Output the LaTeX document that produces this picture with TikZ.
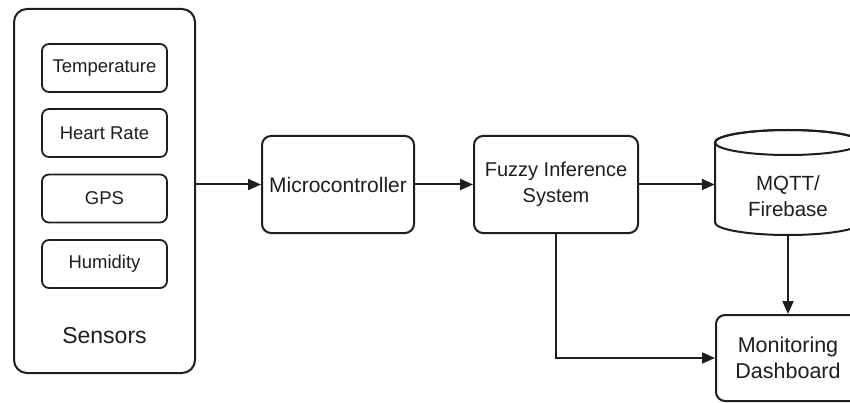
\documentclass[tikz,border=0pt]{standalone}
\usepackage{fontspec}
\setmainfont{Liberation Sans}
\usetikzlibrary{arrows.meta}
\definecolor{ink}{HTML}{1E1E1E}
\begin{document}
\begin{tikzpicture}[x=1pt,y=-1pt,
  box/.style={draw=ink, line width=2pt, rounded corners=9pt, align=center, text=ink, inner sep=0pt,
    font=\fontsize{20}{25.5}\selectfont},
  sensbox/.style={draw=ink, line width=1.8pt, rounded corners=7pt, minimum width=125pt, minimum height=48pt,
    inner sep=0pt, text=ink, font=\fontsize{18.5}{21}\selectfont},
  arr/.style={draw=ink, line width=2pt, -{Triangle[length=13pt,width=11pt]}}]
\useasboundingbox (0,0) rectangle (850,403);
\fill[white] (0,0) rectangle (850,403);
\clip (0,0) rectangle (850,403);

% Sensors group
\node[draw=ink, line width=2pt, rounded corners=13pt, minimum width=181pt, minimum height=364pt, inner sep=0pt] (sensors) at (104.5,191) {};
\node[sensbox] (temp) at (104.5,68) {Temperature};
\node[sensbox] (heart) at (104.5,133) {Heart Rate};
\node[sensbox] (gps) at (104.5,198.5) {GPS};
\node[sensbox] (hum) at (104.5,264) {Humidity};
\node[text=ink, font=\fontsize{23}{27}\selectfont] (slabel) at (104.5,336) {Sensors};

% Main boxes
\node[box, minimum width=152pt, minimum height=97pt, font=\fontsize{21}{25.5}\selectfont] (micro) at (338,184.5) {Microcontroller};
\node[box, minimum width=164pt, minimum height=97pt] (fuzzy) at (556,184.5) {Fuzzy Inference\\System};

% Database cylinder
\node[minimum width=146pt, minimum height=105pt, inner sep=0pt] (db) at (788,182.5) {};
\filldraw[draw=ink, fill=white, line width=2pt]
  (715,142.5) -- (715,222.5) arc[start angle=180, end angle=0, x radius=73, y radius=12.5]
  -- (861,142.5) arc[start angle=0, end angle=-180, x radius=73, y radius=12.5] -- cycle;
\draw[draw=ink, line width=2pt] (788,142.5) ellipse [x radius=73, y radius=12.5];
\node[align=center, text=ink, font=\fontsize{20.5}{25.5}\selectfont] (dbtext) at (788,196) {MQTT/\\Firebase};

\node[box, minimum width=144pt, minimum height=86pt, font=\fontsize{21.5}{26}\selectfont] (dash) at (788,358) {Monitoring\\Dashboard};

% Connectors
\draw[arr] (sensors.east |- micro.west) -- (micro.west);
\draw[arr] (micro.east) -- (fuzzy.west);
\draw[arr] (fuzzy.east) -- (db.west |- fuzzy.east);
\draw[arr] (db.south) -- (dash.north);
\draw[arr] (fuzzy.south) |- (dash.west);
\end{tikzpicture}
\end{document}
